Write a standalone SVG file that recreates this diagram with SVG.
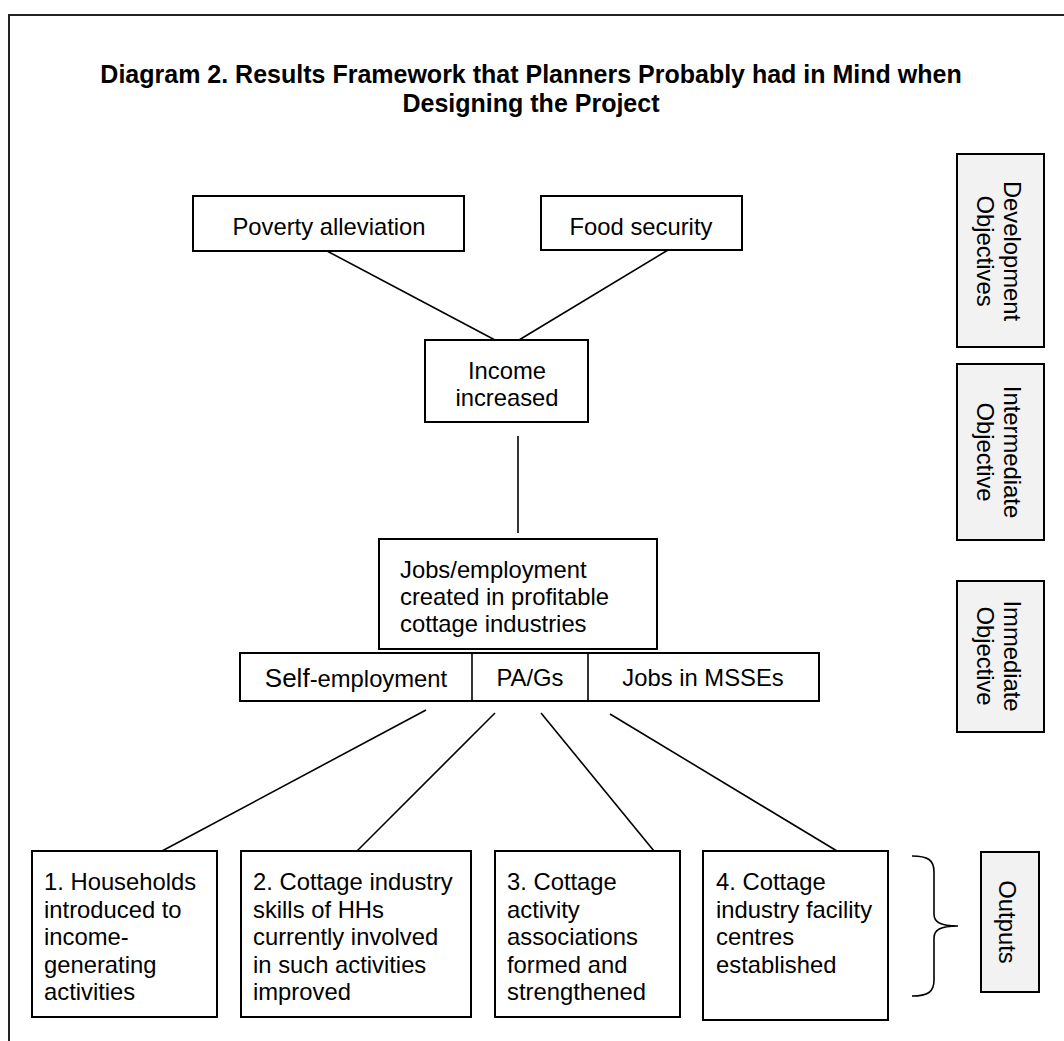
<svg xmlns="http://www.w3.org/2000/svg" width="1064" height="1041" viewBox="0 0 1064 1041">
<style>
.t{font-family:"Liberation Sans",Arial,sans-serif;font-size:23.8px;fill:#000}
.m{text-anchor:middle}
.title{font-family:"Liberation Sans",Arial,sans-serif;font-size:25px;font-weight:bold;text-anchor:middle;fill:#000}
.box{fill:#fff;stroke:#000;stroke-width:2}
.lab{fill:#f2f2f2;stroke:#000;stroke-width:2}
.ln{stroke:#000;stroke-width:1.6;fill:none}
</style>
<rect width="1064" height="1041" fill="#fff"/>
<path d="M9,1041 V15 H1064" fill="none" stroke="#222" stroke-width="2"/>
<g id="title">
<text class="title" x="531" y="83">Diagram 2. Results Framework that Planners Probably had in Mind when</text>
<text class="title" x="531" y="112">Designing the Project</text>
</g>
<g id="connectors">
<line class="ln" x1="327" y1="251" x2="495" y2="340"/>
<line class="ln" x1="668" y1="250" x2="519" y2="340"/>
<line class="ln" x1="518" y1="436" x2="518" y2="533"/>
<line class="ln" x1="426" y1="710" x2="162" y2="851"/>
<line class="ln" x1="495" y1="713" x2="357" y2="851"/>
<line class="ln" x1="541" y1="713" x2="654" y2="851"/>
<line class="ln" x1="610" y1="714" x2="837" y2="851"/>
<path class="ln" d="M912,856 C928,856 934,860 934,872 L934,914 C934,922 940,926 958,926 C940,926 934,930 934,938 L934,980 C934,992 928,996 912,996"/>
</g>
<g id="poverty">
<rect class="box" x="193" y="196" width="271" height="55"/>
<text class="t m" x="329" y="235">Poverty alleviation</text>
</g>
<g id="food">
<rect class="box" x="541" y="196" width="201" height="54"/>
<text class="t m" x="641" y="235">Food security</text>
</g>
<g id="income">
<rect class="box" x="425" y="340" width="163" height="82"/>
<text class="t m" x="507" y="379">Income</text>
<text class="t m" x="507" y="406">increased</text>
</g>
<g id="jobs">
<rect class="box" x="379" y="539" width="278" height="110"/>
<text class="t" x="400" y="578">Jobs/employment</text>
<text class="t" x="400" y="605">created in profitable</text>
<text class="t" x="400" y="632">cottage industries</text>
</g>
<g id="types">
<rect class="box" x="240" y="653" width="579" height="48"/>
<line class="ln" x1="472" y1="653" x2="472" y2="701" stroke-width="2"/>
<line class="ln" x1="588" y1="653" x2="588" y2="701" stroke-width="2"/>
<text class="t m" x="356" y="687"><tspan font-size="26px">Self</tspan>-employment</text>
<text class="t m" x="530" y="686">PA/Gs</text>
<text class="t m" x="703" y="686">Jobs in MSSEs</text>
</g>
<g id="out1">
<rect class="box" x="32" y="851" width="185" height="166"/>
<text class="t" x="44" y="890">1. Households</text>
<text class="t" x="44" y="917.5">introduced to</text>
<text class="t" x="44" y="945">income-</text>
<text class="t" x="44" y="972.5">generating</text>
<text class="t" x="44" y="1000">activities</text>
</g>
<g id="out2">
<rect class="box" x="241" y="851" width="230" height="166"/>
<text class="t" x="253" y="890">2. Cottage industry</text>
<text class="t" x="253" y="917.5">skills of HHs</text>
<text class="t" x="253" y="945">currently involved</text>
<text class="t" x="253" y="972.5">in such activities</text>
<text class="t" x="253" y="1000">improved</text>
</g>
<g id="out3">
<rect class="box" x="495" y="851" width="185" height="166"/>
<text class="t" x="507" y="890">3. Cottage</text>
<text class="t" x="507" y="917.5">activity</text>
<text class="t" x="507" y="945">associations</text>
<text class="t" x="507" y="972.5">formed and</text>
<text class="t" x="507" y="1000">strengthened</text>
</g>
<g id="out4">
<rect class="box" x="703" y="851" width="185" height="169"/>
<text class="t" x="716" y="890">4. Cottage</text>
<text class="t" x="716" y="917.5">industry facility</text>
<text class="t" x="716" y="945">centres</text>
<text class="t" x="716" y="972.5">established</text>
</g>
<g id="lab-dev">
<rect class="lab" x="957" y="154" width="87" height="193"/>
<g transform="translate(1000.5,251) rotate(90)">
<text class="t m" x="0" y="-3.5">Development</text>
<text class="t m" x="0" y="24">Objectives</text>
</g>
</g>
<g id="lab-int">
<rect class="lab" x="957" y="364" width="87" height="176"/>
<g transform="translate(1000.5,452) rotate(90)">
<text class="t m" x="0" y="-3.5">Intermediate</text>
<text class="t m" x="0" y="24">Objective</text>
</g>
</g>
<g id="lab-imm">
<rect class="lab" x="957" y="581" width="87" height="151"/>
<g transform="translate(1000.5,656) rotate(90)">
<text class="t m" x="0" y="-3.5">Immediate</text>
<text class="t m" x="0" y="24">Objective</text>
</g>
</g>
<g id="lab-out">
<rect class="lab" x="981" y="852" width="58" height="140"/>
<g transform="translate(1010,922) rotate(90)">
<text class="t m" x="0" y="11">Outputs</text>
</g>
</g>
</svg>
